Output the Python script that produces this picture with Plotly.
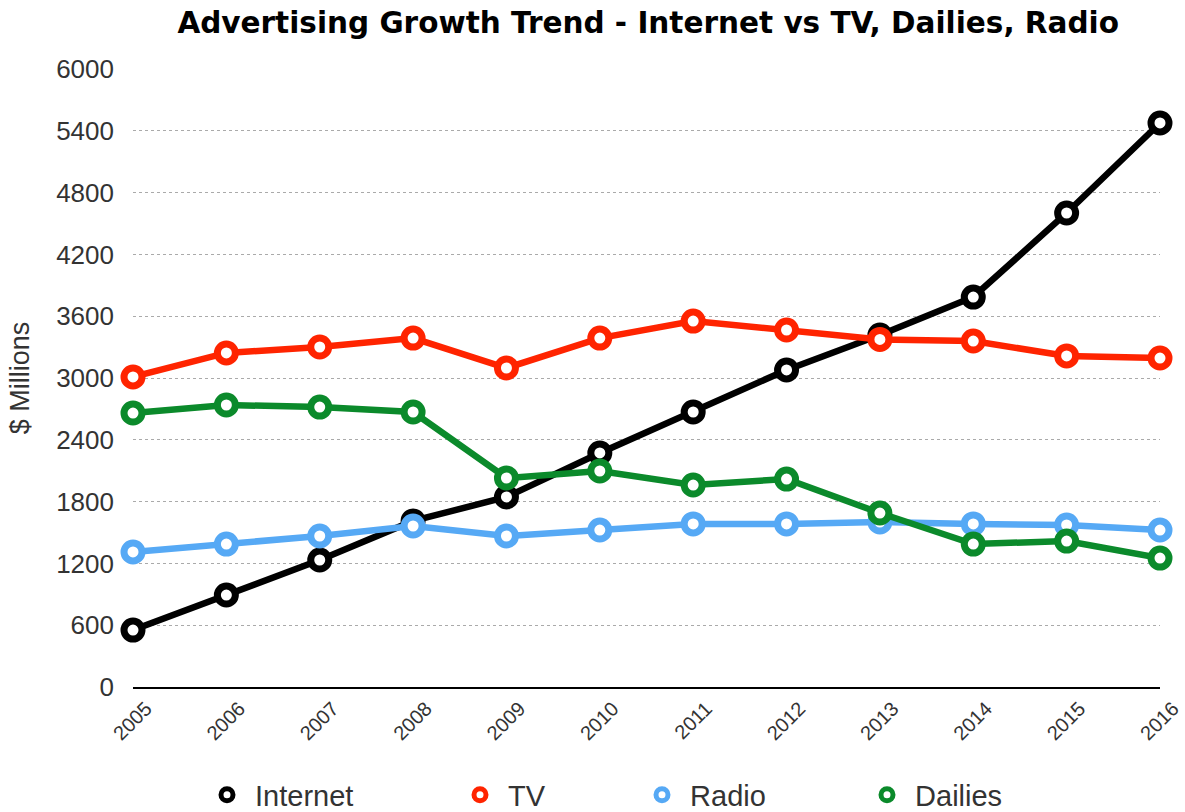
import plotly.graph_objects as go

years = [2005, 2006, 2007, 2008, 2009, 2010, 2011, 2012, 2013, 2014, 2015, 2016]
internet = [553, 893, 1233, 1612, 1845, 2272, 2670, 3078, 3417, 3786, 4602, 5476]
tv = [3010, 3243, 3301, 3388, 3097, 3388, 3553, 3466, 3375, 3359, 3214, 3194]
radio = [1311, 1388, 1466, 1563, 1466, 1524, 1583, 1583, 1602, 1583, 1573, 1524]
dailies = [2660, 2738, 2718, 2670, 2029, 2097, 1961, 2019, 1689, 1388, 1417, 1252]
y_ticks = [0, 600, 1200, 1800, 2400, 3000, 3600, 4200, 4800, 5400, 6000]

series = [
    ("Internet", internet, "#000000"),
    ("TV", tv, "#FF2400"),
    ("Radio", radio, "#56A9F5"),
    ("Dailies", dailies, "#0B8A2B"),
]
legend_ids = ["legend", "legend2", "legend3", "legend4"]
legend_x_px = [207, 460, 642, 867]

font_family = "Liberation Sans, Arial, sans-serif"

fig = go.Figure()
for (name, vals, color), lid in zip(series, legend_ids):
    fig.add_trace(go.Scatter(
        x=years, y=vals, name=name, mode="lines+markers",
        line=dict(color=color, width=6.5),
        marker=dict(symbol="circle", size=18, color="white",
                    line=dict(color=color, width=7)),
        cliponaxis=False, showlegend=False,
    ))
    # legend-only entry (marker symbol as in the reference legend)
    fig.add_trace(go.Scatter(
        x=[None], y=[None], name="\u00a0" + name, mode="markers",
        marker=dict(symbol="circle", size=12, color="white",
                    line=dict(color=color, width=5)),
        showlegend=True, legend=lid,
    ))

legend_common = dict(orientation="h", xref="container", yref="container",
                     yanchor="middle", xanchor="left", y=0.021,
                     font=dict(family=font_family, size=29, color="#333333"),
                     bgcolor="rgba(0,0,0,0)")
layout_legends = {}
for lid, px in zip(legend_ids, legend_x_px):
    layout_legends[lid] = dict(legend_common, x=px / 1185)

fig.update_layout(
    width=1185, height=812,
    paper_bgcolor="white", plot_bgcolor="white",
    margin=dict(l=133, r=25, t=69, b=125, autoexpand=False),
    title=dict(text="<b>Advertising Growth Trend - Internet vs TV, Dailies, Radio</b>",
               x=0.547, xanchor="center", y=0.972, yanchor="middle",
               font=dict(family="DejaVu Sans, sans-serif", size=29.5, color="black")),
    font=dict(family=font_family, color="#333333"),
    showlegend=True,
    **layout_legends,
)
fig.update_xaxes(
    range=[2005, 2016], tickmode="array", tickvals=years,
    ticktext=[str(y) for y in years], tickangle=-45,
    tickfont=dict(size=20, color="#333333"),
    showgrid=False, showline=True, linecolor="black", linewidth=2,
    zeroline=False, ticks="", automargin=False,
    ticklabelshift=13, ticklabelstandoff=0, ticklabeloverflow="allow",
)
fig.update_yaxes(
    range=[0, 6000], tickmode="array", tickvals=y_ticks,
    tickfont=dict(size=26, color="#333333"),
    showgrid=True, gridcolor="#AAAAAA", griddash="dot", gridwidth=1,
    zeroline=False, showline=False, ticks="", ticklabelstandoff=18,
    automargin=False,
    title=dict(text="$ Millions", font=dict(size=27, color="#333333"), standoff=18),
)

fig.write_html("out.html")
